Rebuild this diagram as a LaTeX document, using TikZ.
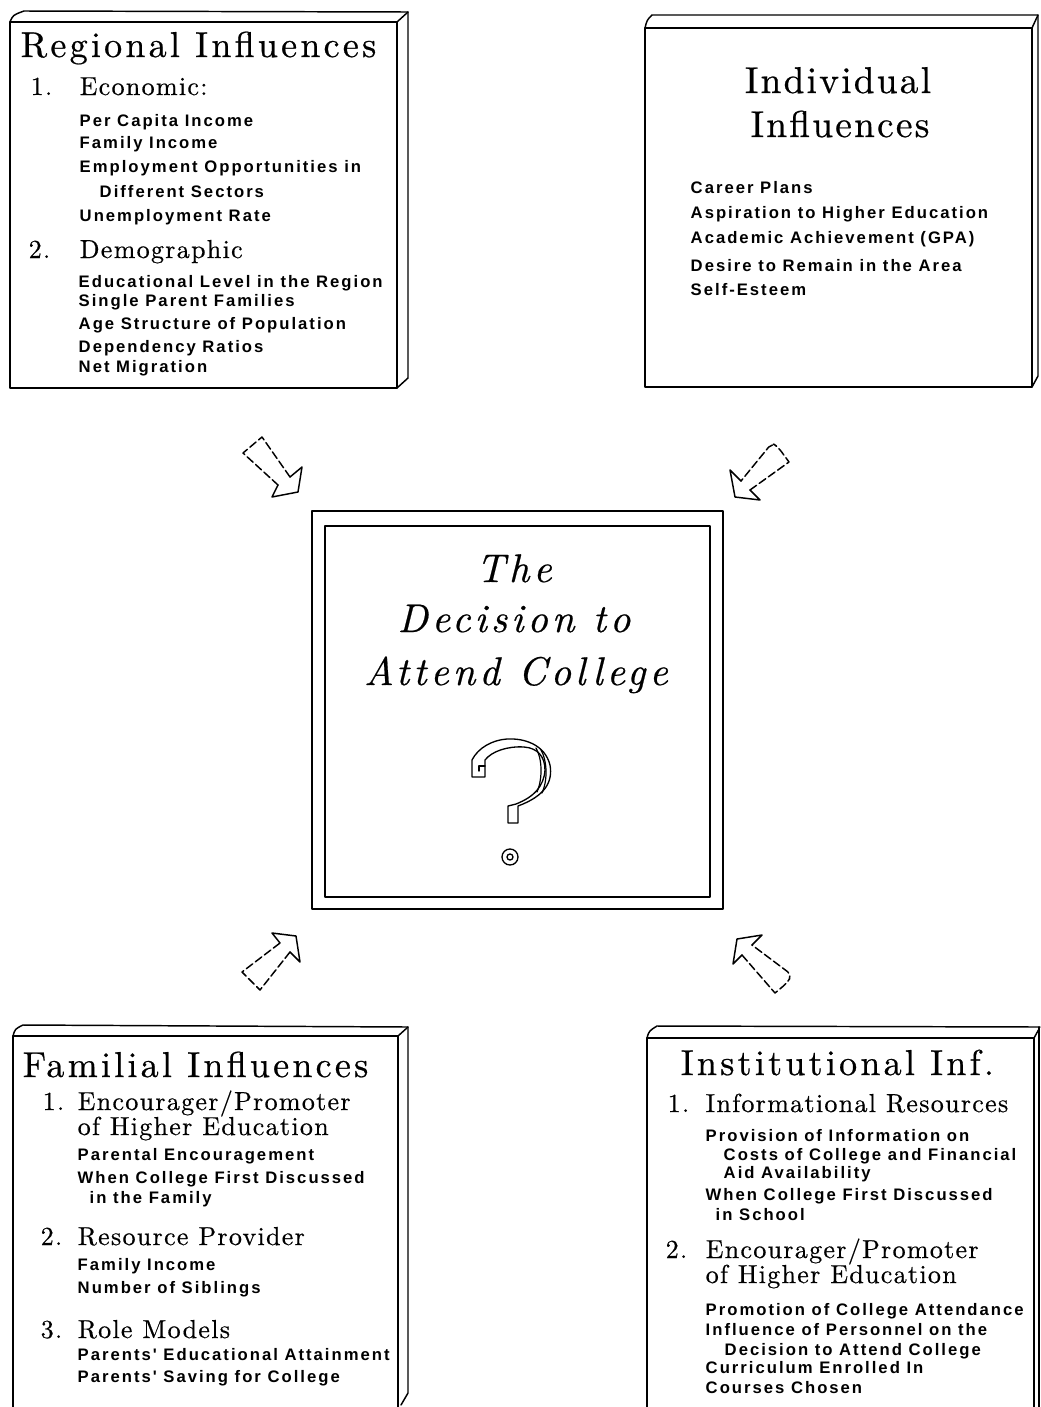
\documentclass[tikz,border=0pt]{standalone}
\usepackage{fontspec}
\newfontfamily\ttlfam{lmroman10-regular.otf}[LetterSpace=9,FakeBold=0.6]
\newfontfamily\indfam{lmroman10-regular.otf}[LetterSpace=6,FakeBold=0.6]
\newfontfamily\subfam{lmroman10-regular.otf}[LetterSpace=5,FakeBold=0.5]
\newfontfamily\cenfam{lmroman10-italic.otf}[LetterSpace=10,FakeBold=0.5]
\newfontfamily\itmfam{Liberation Sans}[LetterSpace=12]
\newcommand\ttlfont{\ttlfam\fontsize{27}{32}\selectfont}
\newcommand\indfont{\indfam\fontsize{28}{33}\selectfont}
\newcommand\subfont{\subfam\fontsize{19.5}{23}\selectfont}
\newcommand\cenfont{\cenfam\fontsize{30}{36}\selectfont}
\newcommand\itmfont{\itmfam\bfseries\fontsize{12.5}{15}\selectfont}
\begin{document}
\begin{tikzpicture}[x=0.75pt,y=-0.75pt,line width=1.1pt,line join=round,line cap=round,
  ttl/.style={anchor=base west,inner sep=0pt,font=\ttlfont},
  indt/.style={anchor=base,inner sep=0pt,font=\indfont},
  sub/.style={anchor=base west,inner sep=0pt,font=\subfont},
  cen/.style={anchor=base,inner sep=0pt,font=\cenfont},
  itm/.style={anchor=base west,inner sep=0pt,font=\itmfont},
  ahead/.style={line width=1.1pt},
  ashaft/.style={line width=1.1pt,dash pattern=on 6pt off 2.5pt},
  frame/.style={line width=1.1pt}]
\useasboundingbox (0,0) rectangle (1040,1407);

% ---------- Regional box ----------
\draw[frame] (10,22) rectangle (397,388);
\draw[frame] (10,22) .. controls (13,15) .. (24,11) -- (408,12) -- (408,378) -- (397,388);
\draw[frame] (397,22) -- (408,12);
\node[ttl] (rt) at (20,57) {Regional Influences};
\node[sub] (rn1) at (30,95) {1.};
\node[sub] (rs1) at (79,95) {Economic:};
\node[itm] (r1) at (79,126) {Per Capita Income};
\node[itm] (r2) at (79,148) {Family Income};
\node[itm] (r3) at (79,172) {Employment Opportunities in};
\node[itm] (r4) at (99,197) {Different Sectors};
\node[itm] (r5) at (79,221) {Unemployment Rate};
\node[sub] (rn2) at (28,258) {2.};
\node[sub] (rs2) at (79,258) {Demographic};
\node[itm] (r6) at (78,287) {Educational Level in the Region};
\node[itm] (r7) at (78,306) {Single Parent Families};
\node[itm] (r8) at (78,329) {Age Structure of Population};
\node[itm] (r9) at (78,352) {Dependency Ratios};
\node[itm] (r10) at (78,372) {Net Migration};

% ---------- Individual box ----------
\draw[frame] (645,28) rectangle (1032,387);
\draw[frame] (645,28) .. controls (647,20) .. (652,15) -- (1038,15) -- (1038,376) -- (1032,387);
\draw[frame] (1032,28) -- (1038,15);
\node[indt] (it1) at (838,93) {Individual};
\node[indt] (it2) at (840,137) {Influences};
\node[itm] (i1) at (690,193) {Career Plans};
\node[itm] (i2) at (690,218) {Aspiration to Higher Education};
\node[itm] (i3) at (690,243) {Academic Achievement (GPA)};
\node[itm] (i4) at (690,271) {Desire to Remain in the Area};
\node[itm] (i5) at (690,295) {Self-Esteem};

% ---------- Central box ----------
\draw[frame] (312,511) rectangle (723,909);
\draw[frame] (325,526) rectangle (710,897);
\node[cen] (c1) at (514,582) {The};
\node[cen] (c2) at (514,632) {Decision to};
\node[cen] (c3) at (516,685) {Attend College};
% question mark
\draw[line width=1pt] (508,823) -- (508,806) -- (516,804)
  .. controls (534,797) and (544,786) .. (545,770)
  .. controls (545,757) and (538,748) .. (524,747)
  .. controls (508,746) and (492,751) .. (485,760)
  -- (485,777) -- (472,777) -- (472,760)
  .. controls (478,748) and (492,740) .. (507,739)
  .. controls (525,738) and (545,745) .. (550,765)
  .. controls (553,782) and (545,796) .. (518,806)
  -- (518,823) -- cycle;
\draw[line width=1pt] (485,766) -- (479,766) -- (479,771);
\draw[line width=0.9pt] (536,748) .. controls (542,758) and (543,778) .. (537,792);
\draw[line width=0.9pt] (541,750) .. controls (547,760) and (548,780) .. (542,793);
\node[circle,draw,line width=1pt,minimum size=12pt,inner sep=0pt] (qd) at (510,857) {};
\node[circle,draw,line width=1pt,minimum size=4.5pt,inner sep=0pt] (qi) at (510,857) {};

% ---------- Familial box ----------
\draw[frame] (13,1412) -- (13,1036) -- (398,1036) -- (398,1412);
\draw[frame] (13,1036) .. controls (15,1029) .. (23,1025) -- (408,1027) -- (408,1393) -- (401,1405);
\draw[frame] (398,1036) -- (408,1027);
\node[ttl] (ft) at (22,1077) {Familial Influences};
\node[sub] (fn1) at (42,1110) {1.};
\node[sub] (fs1) at (77,1110) {Encourager/Promoter};
\node[sub] (fs1b) at (77,1135) {of Higher Education};
\node[itm] (f1) at (77,1160) {Parental Encouragement};
\node[itm] (f2) at (77,1183) {When College First Discussed};
\node[itm] (f3) at (89,1203) {in the Family};
\node[sub] (fn2) at (40,1245) {2.};
\node[sub] (fs2) at (77,1245) {Resource Provider};
\node[itm] (f4) at (77,1270) {Family Income};
\node[itm] (f5) at (77,1293) {Number of Siblings};
\node[sub] (fn3) at (40,1338) {3.};
\node[sub] (fs3) at (77,1338) {Role Models};
\node[itm] (f6) at (77,1360) {Parents' Educational Attainment};
\node[itm] (f7) at (77,1382) {Parents' Saving for College};

% ---------- Institutional box ----------
\draw[frame] (647,1412) -- (647,1038) -- (1034,1038) -- (1034,1412);
\draw[frame] (647,1038) .. controls (649,1031) .. (657,1026) -- (1040,1027);
\draw[frame] (1039,1027) -- (1039,1412);
\draw[frame] (1034,1038) -- (1039,1029);
\node[ttl] (nt) at (680,1075) {Institutional Inf.};
\node[sub] (nn1) at (667,1112) {1.};
\node[sub] (ns1) at (705,1112) {Informational Resources};
\node[itm] (n1) at (705,1141) {Provision of Information on};
\node[itm] (n2) at (723,1160) {Costs of College and Financial};
\node[itm] (n3) at (723,1178) {Aid Availability};
\node[itm] (n4) at (705,1200) {When College First Discussed};
\node[itm] (n5) at (715,1220) {in School};
\node[sub] (nn2) at (665,1258) {2.};
\node[sub] (ns2) at (705,1258) {Encourager/Promoter};
\node[sub] (ns2b) at (705,1283) {of Higher Education};
\node[itm] (n6) at (705,1315) {Promotion of College Attendance};
\node[itm] (n7) at (705,1335) {Influence of Personnel on the};
\node[itm] (n8) at (724,1355) {Decision to Attend College};
\node[itm] (n9) at (705,1373) {Curriculum Enrolled In};
\node[itm] (n10) at (705,1393) {Courses Chosen};

% ---------- Block arrows ----------
% top-left (pointing down-right)
\draw[ahead] (278,485) -- (272,497) -- (298,492) -- (302,467) -- (290,477);
\draw[ashaft] (290,477) -- (262,437) -- (243,453) -- (278,485);
% top-right (pointing down-left)
\draw[ahead] (741,481) -- (730,470) -- (735,497) -- (760,500) -- (750,490);
\draw[ashaft] (750,490) -- (789,462) [rounded corners=4pt] -- (778,447) -- (772,443) [sharp corners] -- (741,481);
% bottom-left (pointing up-right)
\draw[ahead] (280,943) -- (272,933) -- (296,936) -- (300,962) -- (290,952);
\draw[ashaft] (290,952) -- (260,990) -- (242,972) -- (280,943);
% bottom-right (pointing up-left)
\draw[ahead] (752,945) -- (762,935) -- (737,939) -- (733,964) -- (742,955);
\draw[ashaft] (742,955) -- (775,993) [rounded corners=4pt] -- (787,983) -- (792,975) [sharp corners] -- (752,945);
\end{tikzpicture}
\end{document}
